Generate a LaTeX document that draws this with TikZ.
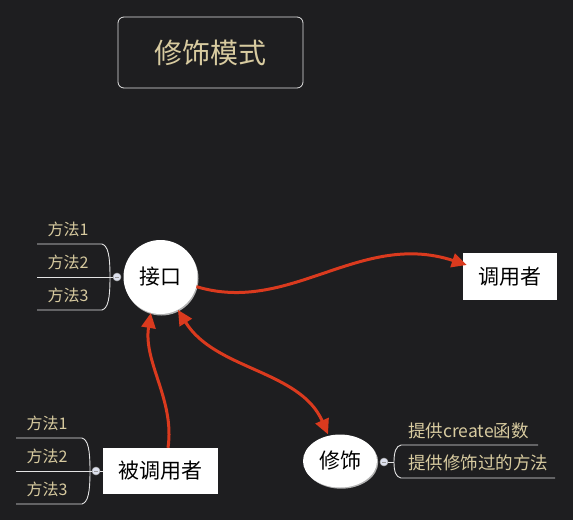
\documentclass[tikz,border=0pt]{standalone}
\usepackage{fontspec}
\setmainfont{Noto Sans CJK SC}
\usetikzlibrary{arrows.meta,shapes.geometric}
\definecolor{bgc}{HTML}{1E1E20}
\definecolor{beige}{HTML}{D8CBA0}
\definecolor{arr}{HTML}{DA3A1E}
\definecolor{linec}{HTML}{E4E4E4}
\definecolor{dotc}{HTML}{DDE1EE}
\tikzset{
  x=1pt,y=-1pt,
  lbl/.style={text=beige,font=\fontsize{16}{18}\selectfont,inner sep=0},
  lbltwo/.style={text=beige,font=\fontsize{17.5}{19}\selectfont,inner sep=0,anchor=west},
  mainc/.style={circle,fill=white,minimum size=74pt,inner sep=0,font=\fontsize{21}{24}\selectfont},
  mainbox/.style={rectangle,fill=white,inner sep=0,font=\fontsize{21}{24}\selectfont},
  brk/.style={draw=linec,line width=0.9pt},
  dotn/.style={circle,fill=dotc,draw=gray!70,line width=0.5pt,minimum size=8pt,inner sep=0},
  conn/.style={draw=arr,line width=3pt,-{Triangle[length=15pt,width=14pt]}},
  conn2/.style={draw=arr,line width=3pt,{Triangle[length=15pt,width=14pt]}-{Triangle[length=15pt,width=14pt]}}
}
\begin{document}
\begin{tikzpicture}
\fill[bgc] (0,0) rectangle (573,520);
\useasboundingbox (0,0) rectangle (573,520);
% title
\node[draw=linec,rounded corners=6pt,line width=0.8pt,minimum width=185pt,minimum height=71pt,inner sep=0,text=beige,font=\fontsize{28}{32}\selectfont] (title) at (210.5,52.5) {修饰模式};
% shadows
\fill[gray!60] (161.5,278.5) circle (37);
\fill[gray!60] (341.2,462.2) ellipse (37 and 26.5);
% main nodes
\node[mainc] (jk) at (160.5,277) {接口};
\node[mainbox,minimum width=94pt,minimum height=47pt] (dyz) at (510,276.5) {调用者};
\node[mainbox,minimum width=115pt,minimum height=46pt] (bdyz) at (160.5,471) {被调用者};
\node[ellipse,fill=white,minimum width=74pt,minimum height=53pt,inner sep=0,font=\fontsize{21}{24}\selectfont] (xs) at (340,461) {修饰};
% bracket 1
\node[dotn] (d1) at (117,277) {};
\draw[gray!80,line width=0.8pt] ([xshift=-2]d1.center) -- ([xshift=2]d1.center);
\coordinate (a1) at (37,244);
\coordinate (a2) at (37,277);
\coordinate (a3) at (37,310);
\draw[brk] (a1) -- (102,244) .. controls (108,246) and (110,255) .. (110,277) .. controls (110,299) and (108,308) .. (102,310) -- (a3);
\draw[brk] (a2) -- (d1.west);
\node[lbl] (m11) at (68,229) {方法1};
\node[lbl] (m12) at (68,262) {方法2};
\node[lbl] (m13) at (68,295) {方法3};
% bracket 2
\node[dotn] (d2) at (96,471) {};
\draw[gray!80,line width=0.8pt] ([xshift=-2]d2.center) -- ([xshift=2]d2.center);
\coordinate (b1) at (16,438);
\coordinate (b2) at (16,471);
\coordinate (b3) at (16,504);
\draw[brk] (b1) -- (82,438) .. controls (88,440) and (90,449) .. (90,471) .. controls (90,493) and (88,502) .. (82,504) -- (b3);
\draw[brk] (b2) -- (d2.west);
\draw[brk] (d2.east) -- (bdyz.west);
\node[lbl] (m21) at (47,423) {方法1};
\node[lbl] (m22) at (47,456) {方法2};
\node[lbl] (m23) at (47,489) {方法3};
% bracket 3
\node[dotn] (d3) at (384,462) {};
\draw[gray!80,line width=0.8pt] ([xshift=-2]d3.center) -- ([xshift=2]d3.center);
\coordinate (c1) at (538,445);
\coordinate (c3) at (555,478);
\draw[brk] (c1) -- (401,445) .. controls (396,446) and (394,452) .. (394,462) .. controls (394,472) and (396,477) .. (401,478) -- (c3);
\draw[brk] (d3.east) -- (394,462);
\node[lbltwo] (t1) at (408,431) {提供create函数};
\node[lbltwo] (t2) at (408,463) {提供修饰过的方法};
% arrows
\draw[conn] (jk.-15) .. controls (290,315) and (360,230) .. ([xshift=4pt]dyz.west |- 0,265);
\draw[conn] (bdyz.north -| 168,0) .. controls (175,400) and (143,362) .. (jk.-105);
\draw[conn2] (jk.-62) .. controls (215,370) and (300,370) .. (xs.north -| 328,0);
\end{tikzpicture}
\end{document}
